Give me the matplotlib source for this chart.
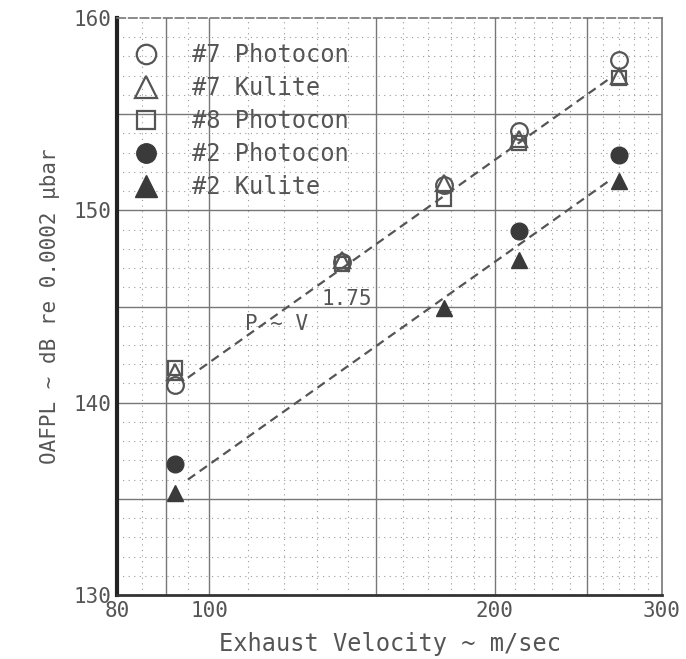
import matplotlib
matplotlib.use("Agg")
import matplotlib.pyplot as plt
from matplotlib.lines import Line2D

plt.rcParams["font.family"] = "DejaVu Sans Mono"

# measured points (exhaust velocity m/s, OAFPL dB)
v7_photo = [92, 138, 177, 212, 270]
db7_photo = [140.9, 147.3, 151.3, 154.1, 157.8]
v7_kulite = [92, 138, 177, 212, 270]
db7_kulite = [141.6, 147.4, 151.4, 153.7, 157.0]
v8_photo = [92, 138, 177, 212, 270]
db8_photo = [141.8, 147.2, 150.6, 153.5, 156.9]
v2_photo = [92, 212, 270]
db2_photo = [136.8, 148.9, 152.9]
v2_kulite = [92, 177, 212, 270]
db2_kulite = [135.3, 144.9, 147.4, 151.5]

# P ~ V^1.75 fit lines (end points)
fit_v = [95, 265]
fit_upper = [141.3, 156.9]
fit_lower = [136.0, 151.6]

INK = "#555555"
DARK = "#3a3a3a"

fig = plt.figure(figsize=(6.86, 6.59), dpi=100)
ax = fig.add_axes([0.1706, 0.0971, 0.7944, 0.8756])
ax.set_xscale("log")
ax.set_xlim(80, 300)
ax.set_ylim(130, 160)

# graph paper grid
for y in range(131, 160):
    if y % 5:
        ax.axhline(y, color="#999999", lw=0.8, ls=(0, (1, 4)), zorder=0)
for y in (135, 140, 145, 150, 155):
    ax.axhline(y, color="#777777", lw=1.0, zorder=0)
for x in [85, 95] + list(range(110, 300, 10)):
    if x not in (150, 200, 250):
        ax.axvline(x, color="#999999", lw=0.8, ls=(0, (1, 4)), zorder=0)
for x in (90, 100, 150, 200, 250):
    ax.axvline(x, color="#777777", lw=1.0, zorder=0)

ax.plot(fit_v, fit_upper, color=INK, lw=1.6, dashes=(4, 2.5), zorder=2)
ax.plot(fit_v, fit_lower, color=INK, lw=1.6, dashes=(4, 2.5), zorder=2)

ms = 12
ax.plot(v7_photo, db7_photo, "o", ms=ms, mfc="none", mec=INK, mew=1.6, zorder=3)
ax.plot(v7_kulite, db7_kulite, "^", ms=ms, mfc="none", mec=INK, mew=1.6, zorder=3)
ax.plot(v8_photo, db8_photo, "s", ms=ms - 2, mfc="none", mec=INK, mew=1.6, zorder=3)
ax.plot(v2_photo, db2_photo, "o", ms=ms, mfc=DARK, mec=DARK, zorder=3)
ax.plot(v2_kulite, db2_kulite, "^", ms=ms, mfc=DARK, mec=DARK, zorder=3)

ax.text(109, 143.8, "P ~ V", fontsize=15, color=INK)
ax.text(131.5, 145.1, "1.75", fontsize=15, color=INK)

handles = [
    Line2D([], [], ls="none", marker="o", ms=ms + 2, mfc="none", mec=INK, mew=1.6),
    Line2D([], [], ls="none", marker="^", ms=ms + 4, mfc="none", mec=INK, mew=1.6),
    Line2D([], [], ls="none", marker="s", ms=ms + 1, mfc="none", mec=INK, mew=1.6),
    Line2D([], [], ls="none", marker="o", ms=ms + 2, mfc=DARK, mec=DARK),
    Line2D([], [], ls="none", marker="^", ms=ms + 4, mfc=DARK, mec=DARK),
]
labels = ["#7 Photocon", "#7 Kulite", "#8 Photocon", "#2 Photocon", "#2 Kulite"]
leg = ax.legend(handles, labels, loc="upper left", bbox_to_anchor=(-0.01, 0.985),
                frameon=False, fontsize=17, labelspacing=0.38, handletextpad=1.2,
                handlelength=1.5, borderaxespad=0.3)
for t in leg.get_texts():
    t.set_color(INK)

ax.set_xticks([80, 100, 200, 300])
ax.set_xticklabels(["80", "100", "200", "300"])
ax.xaxis.set_minor_locator(matplotlib.ticker.NullLocator())
ax.set_yticks([130, 140, 150, 160])
ax.tick_params(length=0, labelsize=15, labelcolor=INK, pad=4)

ax.set_xlabel("Exhaust Velocity ~ m/sec", fontsize=17, color=INK, labelpad=8)
ax.set_ylabel("OAFPL ~ dB re 0.0002 \u03bcbar", fontsize=15, color=INK, labelpad=10)

ax.spines["left"].set_linewidth(3)
ax.spines["left"].set_color("#222222")
ax.spines["bottom"].set_linewidth(2)
ax.spines["bottom"].set_color("#333333")
ax.spines["top"].set_linewidth(1.2)
ax.spines["top"].set_color("#777777")
ax.spines["top"].set_linestyle((0, (5, 2)))
ax.spines["right"].set_linewidth(1.2)
ax.spines["right"].set_color("#777777")

fig.savefig("out.png", dpi=100)
